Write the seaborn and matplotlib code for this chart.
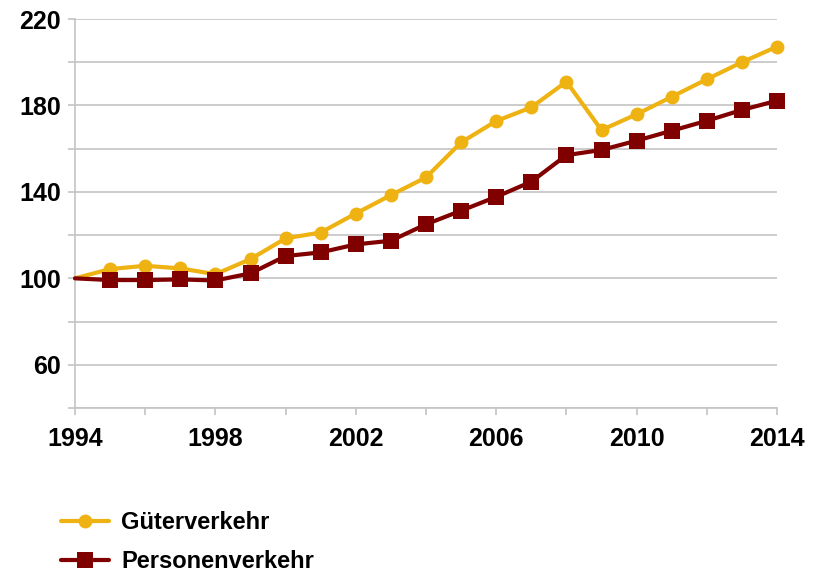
import matplotlib
matplotlib.use("Agg")
import matplotlib.pyplot as plt
import seaborn as sns
import pandas as pd
from matplotlib.ticker import FixedLocator, FixedFormatter

years = list(range(1994, 2015))
gueter = [100, 104.3, 105.8, 104.6, 101.9, 108.9, 118.5, 121.2, 130.0, 138.5, 146.7,
          162.9, 172.8, 179.1, 191.0, 168.6, 175.9, 184.0, 192.1, 200.0, 207.2]
personen = [100, 99.2, 99.2, 99.5, 99.0, 102.3, 110.3, 112.0, 115.7, 117.4, 125.0,
            131.3, 137.7, 144.7, 157.0, 159.4, 163.7, 168.3, 172.9, 177.9, 182.2]
series_names = ["Güterverkehr", "Personenverkehr"]
y_ticks = [40, 60, 80, 100, 120, 140, 160, 180, 200, 220]
y_labels = ["", "60", "", "100", "", "140", "", "180", "", "220"]
x_major = [1994, 1998, 2002, 2006, 2010, 2014]
x_minor = [1996, 2000, 2004, 2008, 2012]

df = pd.DataFrame({
    "Jahr": years * 2,
    "Wert": gueter + personen,
    "Serie": [series_names[0]] * len(years) + [series_names[1]] * len(years),
})

sns.set_style("white")
plt.rcParams["font.family"] = ["Liberation Sans", "DejaVu Sans"]
plt.rcParams["text.color"] = "black"
plt.rcParams["xtick.labelcolor"] = "black"
plt.rcParams["ytick.labelcolor"] = "black"

fig = plt.figure(figsize=(8.22, 5.76), dpi=100)
ax = fig.add_axes([75 / 822, 1 - 408 / 576, (777 - 75) / 822, (408 - 19) / 576])

palette = {series_names[0]: "#EEB313", series_names[1]: "#800000"}
sns.lineplot(data=df, x="Jahr", y="Wert", hue="Serie", style="Serie",
             markers={series_names[0]: "o", series_names[1]: "s"}, dashes=False,
             palette=palette, linewidth=3, ax=ax, legend=False)

sizes = {series_names[0]: 10, series_names[1]: 11}
for line, name in zip(ax.get_lines(), series_names):
    line.set_markevery(list(range(1, len(years))))
    line.set_markersize(sizes[name])
    line.set_markeredgewidth(0)
    line.set_clip_on(False)
    line.set_label(name)
    line.set_zorder(3)

ax.set_xlim(1994, 2014)
ax.set_ylim(40, 220)
ax.yaxis.set_major_locator(FixedLocator(y_ticks))
ax.yaxis.set_major_formatter(FixedFormatter(y_labels))
ax.xaxis.set_major_locator(FixedLocator(x_major))
ax.xaxis.set_minor_locator(FixedLocator(x_minor))
ax.grid(axis="y", color="#c4c4c4", linewidth=1.2)
ax.set_axisbelow(True)
for s in ["top", "right"]:
    ax.spines[s].set_visible(False)
for s in ["left", "bottom"]:
    ax.spines[s].set_color("#c4c4c4")
    ax.spines[s].set_linewidth(1.2)
ax.tick_params(axis="y", which="major", length=5, width=1.2, color="#c4c4c4",
               pad=5, labelsize=18, left=True, labelcolor="black")
ax.tick_params(axis="x", which="both", length=5, width=1.2, color="#c4c4c4",
               pad=9, labelsize=18, bottom=True, labelcolor="black")
for lab in ax.get_xticklabels() + ax.get_yticklabels():
    lab.set_fontweight("bold")
ax.set_xlabel("")
ax.set_ylabel("")

handles = ax.get_lines()[:2]
leg = fig.legend(handles=handles, labels=series_names, loc="upper left",
                 bbox_to_anchor=(42 / 822, 1 - 492 / 576), frameon=False,
                 prop={"weight": "bold", "size": 17}, handlelength=2.05,
                 handletextpad=0.5, labelspacing=0.7, markerscale=1.0,
                 borderpad=0.3)
for t in leg.get_texts():
    t.set_color("black")

fig.savefig("out.png", dpi=100)
